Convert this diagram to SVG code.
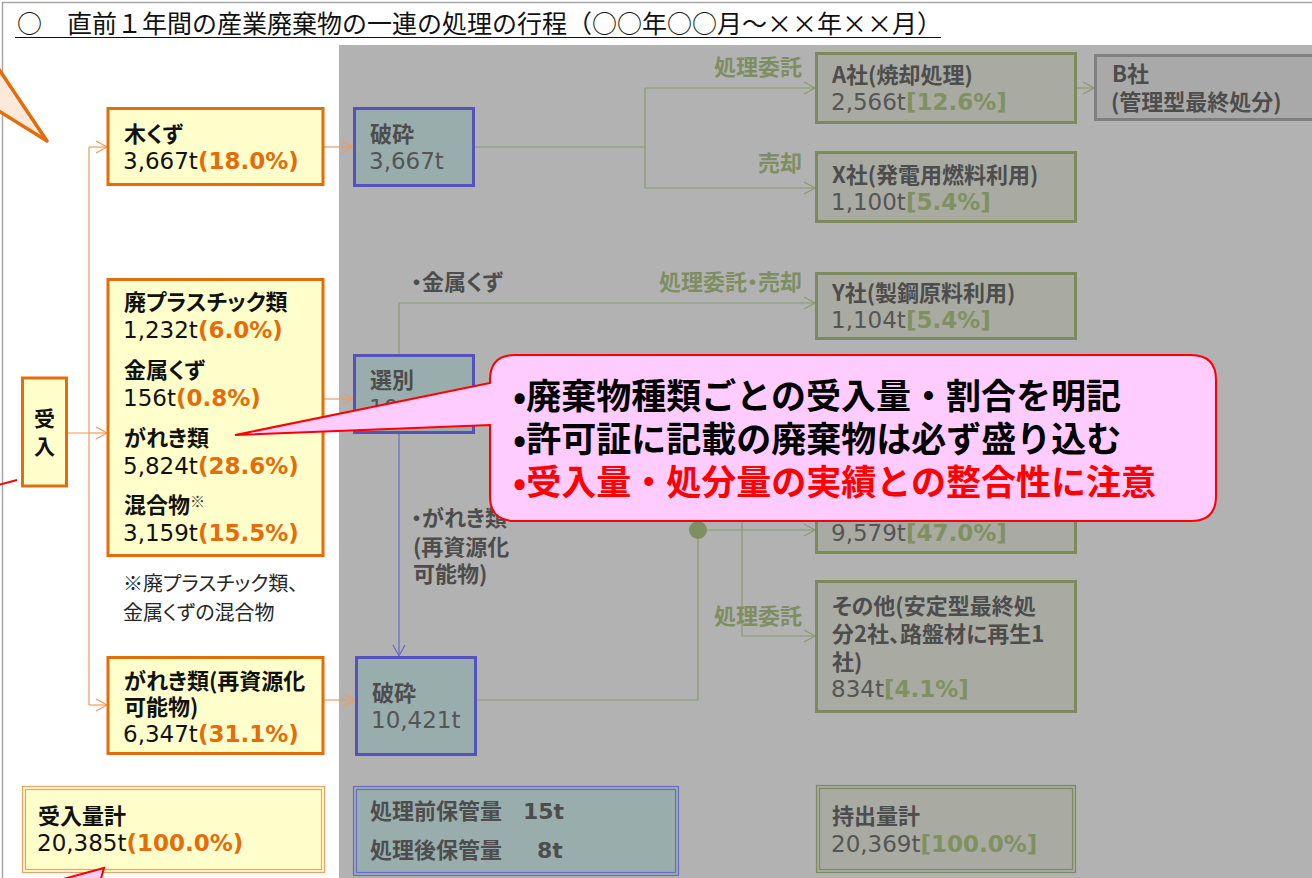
<svg xmlns="http://www.w3.org/2000/svg" width="1312" height="878" viewBox="0 0 1312 878">
<style>
text{font-family:"Noto Sans CJK JP",sans-serif;font-feature-settings:"palt";}
.lbl{font-size:22px;font-weight:bold;fill:#111;}
.num{font-family:"DejaVu Sans","Noto Sans CJK JP",sans-serif;font-size:23px;fill:#111;}
.pct{font-weight:bold;fill:#e46c0a;}
.glbl{font-size:22px;font-weight:bold;fill:#4d4d4d;}
.gnum{font-family:"DejaVu Sans","Noto Sans CJK JP",sans-serif;font-size:23px;fill:#555;}
.gpct{font-weight:bold;fill:#7f9160;}
.olab{font-size:22px;font-weight:bold;fill:#7e8e62;}
.note{font-size:20px;fill:#262626;}
.ybox{fill:#ffffcc;stroke:#e46c0a;stroke-width:3;}
.bbox{fill:#9aadad;stroke:#5353b9;stroke-width:3;}
.obox{fill:#a9aaa2;stroke:#7d8b5c;stroke-width:3;}
.co{fill:none;stroke:#ef9a5c;stroke-width:1.2;}
.cg{fill:none;stroke:#8b9a6b;stroke-width:1.2;}
.cb{fill:none;stroke:#6a6ac8;stroke-width:1.2;}
.call{font-size:35px;font-weight:bold;fill:#000;font-feature-settings:normal;}
.ttl{font-size:25px;fill:#111;font-feature-settings:normal;}
</style>
<defs>
<marker id="ao" markerUnits="userSpaceOnUse" markerWidth="14" markerHeight="14" refX="12" refY="7" orient="auto"><path d="M1,1 L12,7 L1,13" fill="none" stroke="#ef9a5c" stroke-width="1.2"/></marker>
<marker id="ag" markerUnits="userSpaceOnUse" markerWidth="14" markerHeight="14" refX="12" refY="7" orient="auto"><path d="M1,1 L12,7 L1,13" fill="none" stroke="#8b9a6b" stroke-width="1.2"/></marker>
<marker id="ab" markerUnits="userSpaceOnUse" markerWidth="14" markerHeight="14" refX="12" refY="7" orient="auto"><path d="M1,1 L12,7 L1,13" fill="none" stroke="#6a6ac8" stroke-width="1.2"/></marker>
</defs>
<rect x="0" y="0" width="1312" height="878" fill="#ffffff"/>
<rect x="2.5" y="2.5" width="1340" height="900" fill="none" stroke="#a6a6a6" stroke-width="1.5"/>
<g id="title">
<text class="ttl" x="17" y="33">○　直前１年間の産業廃棄物の一連の処理の行程（○○年○○月～××年××月）</text>
<line x1="15" y1="37.5" x2="941" y2="37.5" stroke="#111" stroke-width="1.2"/>
</g>
<rect id="greyarea" x="339" y="45" width="973" height="833" fill="#b2b2b2"/>

<g id="connectors">
<path class="co" d="M67,433 H89 M89,147 V705"/>
<path class="co" d="M89,147 H107" marker-end="url(#ao)"/>
<path class="co" d="M89,433 H107" marker-end="url(#ao)"/>
<path class="co" d="M89,705 H107" marker-end="url(#ao)"/>
<path class="co" d="M324,147 H353" marker-end="url(#ao)"/>
<path class="co" d="M324,399 H353" marker-end="url(#ao)"/>
<path class="co" d="M324,700 H355" marker-end="url(#ao)"/>
<path class="cg" d="M474,147 H645 M645,88 V188"/>
<path class="cg" d="M645,88 H815" marker-end="url(#ag)"/>
<path class="cg" d="M645,188 H815" marker-end="url(#ag)"/>
<path class="cg" d="M399,355 V303 H815" marker-end="url(#ag)"/>
<path class="cg" d="M476,700 H698 V530 H815" marker-end="url(#ag)"/>
<path class="cg" d="M742,505 V636 H815" marker-end="url(#ag)"/>
<path class="cg" d="M1076,88 H1094" marker-end="url(#ag)"/>
<path class="cb" d="M399,433 V656" marker-end="url(#ab)"/>
<circle cx="698" cy="530" r="9" fill="#7f8f5f"/>
</g>

<g id="n-ukeire">
<rect class="ybox" x="22.5" y="378" width="44" height="108"/>
<text class="lbl" x="44.5" y="426" text-anchor="middle" style="font-size:21px">受</text>
<text class="lbl" x="44.5" y="454" text-anchor="middle" style="font-size:21px">入</text>
</g>
<g id="n-mokuzu">
<rect class="ybox" x="108" y="108.5" width="215" height="76"/>
<text class="lbl" x="124" y="142">木くず</text>
<text class="num" x="123" y="169">3,667t<tspan class="pct">(18.0%)</tspan></text>
</g>
<g id="n-mixed">
<rect class="ybox" x="108" y="279.5" width="215" height="276"/>
<text class="lbl" x="124" y="310">廃プラスチック類</text>
<text class="num" x="123" y="338">1,232t<tspan class="pct">(6.0%)</tspan></text>
<text class="lbl" x="124" y="378">金属くず</text>
<text class="num" x="123" y="406">156t<tspan class="pct">(0.8%)</tspan></text>
<text class="lbl" x="124" y="446">がれき類</text>
<text class="num" x="123" y="474">5,824t<tspan class="pct">(28.6%)</tspan></text>
<text class="lbl" x="124" y="513">混合物<tspan style="font-size:15px;font-weight:normal;fill:#444" dy="-6">※</tspan></text>
<text class="num" x="123" y="541">3,159t<tspan class="pct">(15.5%)</tspan></text>
</g>
<g id="note">
<text class="note" x="123" y="591">※廃プラスチック類、</text>
<text class="note" x="123" y="620">金属くずの混合物</text>
</g>
<g id="n-gareki2">
<rect class="ybox" x="108" y="657.5" width="215" height="96"/>
<text class="lbl" x="124" y="689">がれき類(再資源化</text>
<text class="lbl" x="124" y="715">可能物)</text>
<text class="num" x="123" y="742">6,347t<tspan class="pct">(31.1%)</tspan></text>
</g>
<g id="n-total-in">
<rect x="22.5" y="786.5" width="302" height="86" fill="#ffffcc" stroke="#f0a060" stroke-width="1.2"/>
<rect x="25.5" y="789.5" width="296" height="80" fill="none" stroke="#f0a060" stroke-width="1.2"/>
<text class="lbl" x="38" y="824">受入量計</text>
<text class="num" x="37" y="851">20,385t<tspan class="pct">(100.0%)</tspan></text>
</g>

<g id="n-hasai1">
<rect class="bbox" x="354.5" y="108.5" width="119" height="77"/>
<text class="glbl" x="370" y="142">破砕</text>
<text class="gnum" x="369" y="169">3,667t</text>
</g>
<g id="n-senbetsu">
<rect class="bbox" x="354.5" y="355.5" width="119" height="77"/>
<text class="glbl" x="370" y="388">選別</text>
<text class="gnum" x="369" y="416">10,371t</text>
</g>
<g id="n-hasai2">
<rect class="bbox" x="356.5" y="657.5" width="119" height="97"/>
<text class="glbl" x="372" y="701">破砕</text>
<text class="gnum" x="371" y="728">10,421t</text>
</g>
<g id="n-storage">
<rect x="353.5" y="786.5" width="325" height="89" fill="#9aadad" stroke="#6a6ac8" stroke-width="1.2"/>
<rect x="356.5" y="789.5" width="319" height="83" fill="none" stroke="#6a6ac8" stroke-width="1.2"/>
<text class="glbl" x="370" y="819">処理前保管量</text>
<text class="glbl" x="523" y="819" style="font-family:'DejaVu Sans','Noto Sans CJK JP',sans-serif">15t</text>
<text class="glbl" x="370" y="858">処理後保管量</text>
<text class="glbl" x="537" y="858" style="font-family:'DejaVu Sans','Noto Sans CJK JP',sans-serif">8t</text>
</g>
<g id="n-a">
<rect class="obox" x="816.5" y="53.5" width="259" height="69"/>
<text class="glbl" x="832" y="83">A社(焼却処理)</text>
<text class="gnum" x="831" y="110">2,566t<tspan class="gpct">[12.6%]</tspan></text>
</g>
<g id="n-b">
<rect x="1095.5" y="55.5" width="230" height="64" fill="#a9a9a9" stroke="#808080" stroke-width="3"/>
<text class="glbl" x="1112" y="82">B社</text>
<text class="glbl" x="1111" y="110">(管理型最終処分)</text>
</g>
<g id="n-x">
<rect class="obox" x="816.5" y="152.5" width="259" height="69"/>
<text class="glbl" x="832" y="183">X社(発電用燃料利用)</text>
<text class="gnum" x="831" y="210">1,100t<tspan class="gpct">[5.4%]</tspan></text>
</g>
<g id="n-y">
<rect class="obox" x="816.5" y="273.5" width="259" height="65"/>
<text class="glbl" x="832" y="301">Y社(製鋼原料利用)</text>
<text class="gnum" x="831" y="328">1,104t<tspan class="gpct">[5.4%]</tspan></text>
</g>
<g id="n-z">
<rect class="obox" x="816.5" y="483.5" width="259" height="69"/>
<text class="gnum" x="831" y="541">9,579t<tspan class="gpct">[47.0%]</tspan></text>
</g>
<g id="n-other">
<rect class="obox" x="816.5" y="581.5" width="259" height="130"/>
<text class="glbl" x="832" y="614">その他(安定型最終処</text>
<text class="glbl" x="832" y="642">分2社、路盤材に再生1</text>
<text class="glbl" x="832" y="670">社)</text>
<text class="gnum" x="831" y="697">834t<tspan class="gpct">[4.1%]</tspan></text>
</g>
<g id="n-total-out">
<rect x="816.5" y="785.5" width="259" height="87" fill="#a9aaa2" stroke="#7d8b5c" stroke-width="1.2"/>
<rect x="819.5" y="788.5" width="253" height="81" fill="none" stroke="#7d8b5c" stroke-width="1.2"/>
<text class="glbl" x="832" y="824">持出量計</text>
<text class="gnum" x="831" y="852">20,369t<tspan class="gpct">[100.0%]</tspan></text>
</g>

<g id="edge-labels">
<text class="olab" x="802" y="75" text-anchor="end">処理委託</text>
<text class="olab" x="802" y="171" text-anchor="end">売却</text>
<text class="glbl" x="411" y="290">・金属くず</text>
<text class="olab" x="802" y="290" text-anchor="end">処理委託・売却</text>
<text class="glbl" x="411" y="526">・がれき類</text>
<text class="glbl" x="413" y="555">(再資源化</text>
<text class="glbl" x="413" y="582">可能物)</text>
<text class="olab" x="802" y="624" text-anchor="end">処理委託</text>
</g>

<g id="callout-topleft">
<polygon points="-6,62 47,141 -6,108" fill="#fde9d9" stroke="#e46c0a" stroke-width="3.5" stroke-linejoin="round"/>
</g>
<g id="callout-left">
<line x1="-2" y1="485" x2="17" y2="480" stroke="#ff0000" stroke-width="2"/>
</g>
<g id="callout-bottom">
<polygon points="52,882 104,868 100,882" fill="#ffccff" stroke="#ff0000" stroke-width="2"/>
</g>
<g id="callout-main">
<path d="M515,355 H1191 Q1216,355 1216,380 V496 Q1216,521 1191,521 H515 Q490,521 490,496 V425 L235,435 L490,383 V380 Q490,355 515,355 Z" fill="#ffccff" stroke="#ff0000" stroke-width="2"/>
<text class="call" x="513" y="409">•廃棄物種類ごとの受入量・割合を明記</text>
<text class="call" x="513" y="452">•許可証に記載の廃棄物は必ず盛り込む</text>
<text class="call" x="513" y="495" style="fill:#ff0000">•受入量・処分量の実績との整合性に注意</text>
</g>
</svg>
